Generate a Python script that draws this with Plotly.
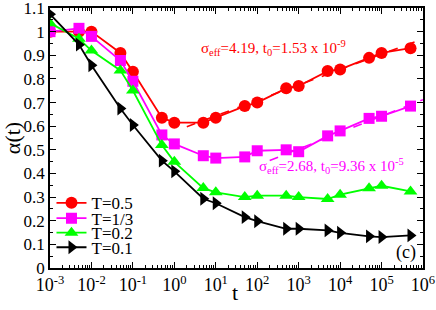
import plotly.graph_objects as go

# ---- data ----
t = [1e-3, 5e-3, 1e-2, 5e-2, 1e-1, 5e-1, 1, 5, 10, 50, 100, 500, 1000, 5000, 1e4, 5e4, 1e5, 5e5]
a_T05 = [1.0, 1.0, 1.0, 0.91, 0.83, 0.636, 0.615, 0.615, 0.636, 0.685, 0.70, 0.76, 0.77, 0.833, 0.84, 0.889, 0.91, 0.93]
a_T13 = [1.0, 1.014, 0.98, 0.878, 0.79, 0.563, 0.525, 0.475, 0.465, 0.47, 0.496, 0.50, 0.492, 0.559, 0.58, 0.633, 0.642, 0.685]
a_T02 = [1.036, 0.97, 0.92, 0.836, 0.751, 0.52, 0.449, 0.338, 0.32, 0.30, 0.306, 0.306, 0.30, 0.292, 0.31, 0.337, 0.348, 0.324]
a_T01 = [1.074, 0.945, 0.858, 0.675, 0.605, 0.454, 0.409, 0.293, 0.274, 0.215, 0.198, 0.166, 0.166, 0.159, 0.149, 0.134, 0.131, 0.138]

fit_t_T05 = [2.0, 1e6]
fit_a_T05 = [0.598, 0.97]
fit_t_T13 = [200, 1e6]
fit_a_T13 = [0.455, 0.712]

series_names = ["T=0.5", "T=1/3", "T=0.2", "T=0.1"]
decades = [-3, -2, -1, 0, 1, 2, 3, 4, 5, 6]
xtick_vals = [10.0 ** d for d in decades]
xtick_text = ["10<sup>%d</sup>" % d for d in decades]
xminor_vals = [m * 10.0 ** d for d in decades[:-1] for m in range(2, 10)]
ytick_vals = [0, 0.1, 0.2, 0.3, 0.4, 0.5, 0.6, 0.7, 0.8, 0.9, 1.0, 1.1]
ytick_text = ["0", "0.1", "0.2", "0.3", "0.4", "0.5", "0.6", "0.7", "0.8", "0.9", "1", "1.1"]
yminor_vals = [0.05, 0.15, 0.25, 0.35, 0.45, 0.55, 0.65, 0.75, 0.85, 0.95, 1.05]

FONT = "Liberation Serif, Times New Roman, serif"
colors = ["#ff0000", "#ff00ff", "#00ff00", "#000000"]
symbols = ["circle", "square", "triangle-up", "triangle-right"]
sizes = [12, 11, 12, 12]
legend_ids = ["legend", "legend2", "legend3", "legend4"]
legend_y = [0.249, 0.190, 0.134, 0.078]

fig = go.Figure()
# dashed fits
fig.add_trace(go.Scatter(x=fit_t_T05, y=fit_a_T05, mode="lines", showlegend=False,
                         line=dict(color=colors[0], width=1.6, dash="dash")))
fig.add_trace(go.Scatter(x=fit_t_T13, y=fit_a_T13, mode="lines", showlegend=False,
                         line=dict(color=colors[1], width=1.6, dash="dash")))

for name, ys, c, s, sz, lg in zip(series_names, [a_T05, a_T13, a_T02, a_T01], colors, symbols, sizes, legend_ids):
    fig.add_trace(go.Scatter(x=t, y=ys, mode="lines+markers", name=name, legend=lg,
                             line=dict(color=c, width=1.8),
                             marker=dict(symbol=s, size=sz, color=c, line=dict(width=0))))

fig.add_annotation(x=0.40, y=0.845, xref="paper", yref="paper", xanchor="left", yanchor="middle",
                   text="σ<sub>eff</sub>=4.19, t<sub>0</sub>=1.53 x 10<sup>-9</sup>", showarrow=False,
                   font=dict(family=FONT, size=15, color=colors[0]))
fig.add_annotation(x=0.554, y=0.392, xref="paper", yref="paper", xanchor="left", yanchor="middle",
                   text="σ<sub>eff</sub>=2.68, t<sub>0</sub>=9.36 x 10<sup>-5</sup>", showarrow=False,
                   font=dict(family=FONT, size=15, color=colors[1]))
fig.add_annotation(x=0.955, y=0.06, xref="paper", yref="paper", xanchor="center", yanchor="middle",
                   text="(c)", showarrow=False, font=dict(family=FONT, size=18, color="black"))
fig.add_annotation(x=0.497, y=-0.094, xref="paper", yref="paper", xanchor="center", yanchor="middle",
                   text="t", showarrow=False, font=dict(family=FONT, size=22, color="black"))

fig.update_xaxes(type="log", range=[-3, 6], tickmode="array", tickvals=xtick_vals, ticktext=xtick_text,
                 ticks="inside", ticklen=6, tickwidth=1, tickcolor="black",
                 minor=dict(ticks="inside", ticklen=3, tickcolor="black", tickmode="array",
                            tickvals=xminor_vals, showgrid=False),
                 showline=True, linecolor="black", linewidth=1.5, mirror="allticks",
                 showgrid=False, zeroline=False, automargin=False, ticklabeloverflow="allow",
                 tickfont=dict(family=FONT, size=18, color="black"))
fig.update_yaxes(range=[0, 1.1], tickmode="array", tickvals=ytick_vals, ticktext=ytick_text,
                 ticks="inside", ticklen=6, tickwidth=1, tickcolor="black",
                 minor=dict(ticks="inside", ticklen=3, tickcolor="black", tickmode="array",
                            tickvals=yminor_vals, showgrid=False),
                 showline=True, linecolor="black", linewidth=1.5, mirror="allticks",
                 showgrid=False, zeroline=False, automargin=False, ticklabeloverflow="allow",
                 tickfont=dict(family=FONT, size=17, color="black"),
                 title=dict(text="α(t)", font=dict(family=FONT, size=22, color="black"), standoff=2))

legend_common = dict(x=0.004, xanchor="left", yanchor="middle",
                     font=dict(family=FONT, size=17, color="black"),
                     bgcolor="rgba(0,0,0,0)", itemwidth=30, borderwidth=0)
fig.update_layout(template="none", width=436, height=310, margin=dict(l=50, r=13, t=8, b=41.5),
                  font=dict(family=FONT, color="black"),
                  paper_bgcolor="white", plot_bgcolor="white",
                  **{lg: dict(y=ly, **legend_common) for lg, ly in zip(legend_ids, legend_y)})

fig.write_html("out.html", config={"displayModeBar": False},
               post_script="document.body.style.margin='0';document.body.style.overflow='hidden';")
